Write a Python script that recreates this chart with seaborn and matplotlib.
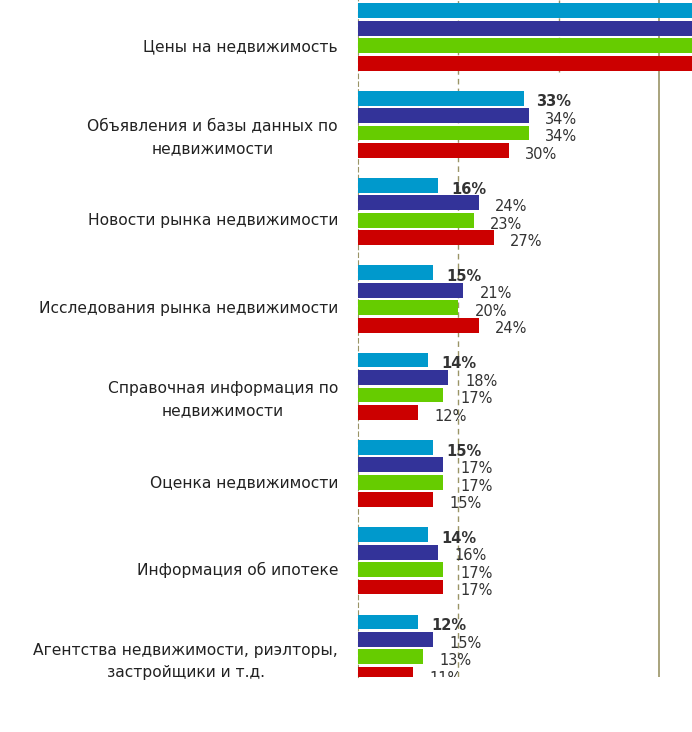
import pandas as pd
import numpy as np
from matplotlib import pyplot as plt
from matplotlib import transforms
import seaborn as sns

categories = [
    "Цены на недвижимость",
    "Объявления и базы данных по\nнедвижимости",
    "Новости рынка недвижимости",
    "Исследования рынка недвижимости",
    "Справочная информация по\nнедвижимости",
    "Оценка недвижимости",
    "Информация об ипотеке",
    "Агентства недвижимости, риэлторы,\nзастройщики и т.д.",
]
series = ["2008", "2009", "2010", "2011"]
# first group runs past the right edge of the picture, values are a guess
s2008 = [78, 33, 16, 15, 14, 15, 14, 12]
s2009 = [80, 34, 24, 21, 18, 17, 16, 15]
s2010 = [79, 34, 23, 20, 17, 17, 17, 13]
s2011 = [81, 30, 27, 24, 12, 15, 17, 11]
colors = ["#0099CC", "#333399", "#66CC00", "#CC0000"]

rows = []
for name, vals in zip(series, [s2008, s2009, s2010, s2011]):
    for c, v in zip(categories, vals):
        rows.append({"cat": c, "series": name, "val": v})
df = pd.DataFrame(rows)

sns.set_style("white")
plt.rcParams['font.family'] = ['DejaVu Sans']

fig = plt.figure(figsize=(6.92, 7.32), dpi=100)
ax = fig.add_axes([358/692, 1 - 677/732, 1 - 358/692, 677/732])

sns.barplot(data=df, y="cat", x="val", hue="series", orient="h",
            palette=colors, saturation=1, width=0.8, gap=0.15, ax=ax,
            legend=False, linewidth=0, zorder=3)

# grid lines, as in the picture
ax.axvline(20, color="#9a9466", lw=1, ls=(0, (4, 3)), zorder=1)
ax.axvline(40, color="#9a9466", lw=1, ls=(0, (4, 3)), ymin=1 - 72/677, zorder=1)
ax.axvline(60, color="#9a9466", lw=1.2, zorder=1)

# value labels (the last one is cut by the bottom of the chart)
for i, cont in enumerate(ax.containers):
    for bar, v in zip(cont, [s2008, s2009, s2010, s2011][i]):
        if v > 60:
            continue
        y = bar.get_y() + bar.get_height() * 0.75
        ax.text(bar.get_width() + 2.5 + (0.8 if i else 0), y, f"{v}%",
                va="center", ha="left", fontsize=10.5, clip_on=True,
                fontweight="bold" if i == 0 else "normal", color="#333333")

ax.set_xlim(0, 66.5)
ax.set_ylim(7.33, -0.424)
ax.set_yticks(np.arange(len(categories)) + 0.09)
ax.set_yticklabels(categories, fontsize=11.2, color="#222222",
                   ha="center", linespacing=1.6)
ax.tick_params(axis="y", length=0, pad=0)
ax.set_xticks([])
ax.set_xlabel("")
ax.set_ylabel("")
for s in ["top", "right", "bottom"]:
    ax.spines[s].set_visible(False)
ax.spines["left"].set_color("#9a9466")
ax.spines["left"].set_linestyle((0, (4, 3)))

# center the multi-line labels at a common right edge
fig.canvas.draw()
r = fig.canvas.get_renderer()
for lab in ax.get_yticklabels():
    w = lab.get_window_extent(r).width
    lab.set_transform(ax.get_yaxis_transform() + transforms.ScaledTranslation(
        -(20 + w / 2) / 100, 0, fig.dpi_scale_trans))

fig.savefig("out.png", dpi=100)
